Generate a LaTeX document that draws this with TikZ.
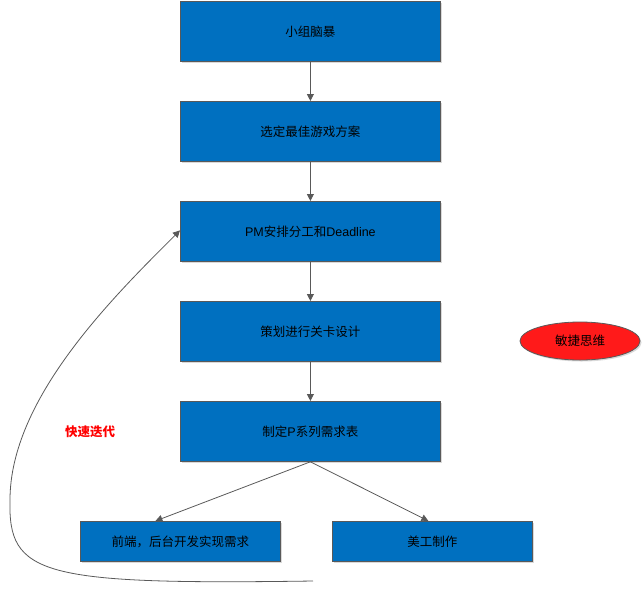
\documentclass[tikz,border=0pt]{standalone}
\usepackage{fontspec}
\setmainfont{Liberation Sans}
\newfontfamily\cjk{Noto Sans CJK SC}
\usetikzlibrary{arrows.meta,shapes.geometric,shadows}
\definecolor{boxblue}{HTML}{0070C0}
\definecolor{edgegray}{HTML}{595959}
\definecolor{ellred}{HTML}{FF1A1A}
\tikzset{
  stepbox/.style={draw=edgegray, line width=0.8pt, fill=boxblue, minimum width=260pt, minimum height=60pt, anchor=north west, font=\cjk\fontsize{12.5}{14}\selectfont, text=black, inner sep=0pt, drop shadow={shadow xshift=1.5pt, shadow yshift=-1.5pt, fill=black, opacity=0.15}},
  smallbox/.style={stepbox, minimum width=200pt, minimum height=40pt},
  conn/.style={draw=edgegray, line width=0.8pt, -{Triangle[length=7pt,width=7pt]}},
}
\begin{document}
\begin{tikzpicture}[x=1pt,y=-1pt]
\useasboundingbox (0,0) rectangle (643,590);
\node[stepbox] (b1) at (180,1) {小组脑暴};
\node[stepbox] (b2) at (180,101) {选定最佳游戏方案};
\node[stepbox] (b3) at (180,201) {{\rmfamily PM}安排分工和{\rmfamily Deadline}};
\node[stepbox] (b4) at (180,301) {策划进行关卡设计};
\node[stepbox] (b5) at (180,401) {制定{\rmfamily P}系列需求表};
\node[smallbox] (b6) at (80,521) {前端，后台开发实现需求};
\node[smallbox] (b7) at (332,521) {美工制作};
\node[ellipse, draw=edgegray, line width=0.8pt, fill=ellred, minimum width=120pt, minimum height=38pt, inner sep=0pt, font=\cjk\fontsize{12.5}{14}\selectfont, drop shadow={shadow xshift=1.5pt, shadow yshift=-1.5pt, fill=black, opacity=0.15}] (e1) at (580,341) {敏捷思维};
\node[text=red, font=\cjk\bfseries\fontsize{12.5}{14}\selectfont] (lbl) at (90,432) {快速迭代};
\draw[conn] (b1.south) -- (b2.north);
\draw[conn] (b2.south) -- (b3.north);
\draw[conn] (b3.south) -- (b4.north);
\draw[conn] (b4.south) -- (b5.north);
\draw[conn] (b5.south) -- ([xshift=-25pt]b6.north);
\draw[conn] (b5.south) -- ([xshift=-4pt]b7.north);
\coordinate (ce) at (313,581);
\draw[conn] (ce) .. controls (40,585) and (8,575) .. (10,500) .. controls (10,400) and (110,300) .. ([yshift=1pt]b3.west);
\end{tikzpicture}
\end{document}
